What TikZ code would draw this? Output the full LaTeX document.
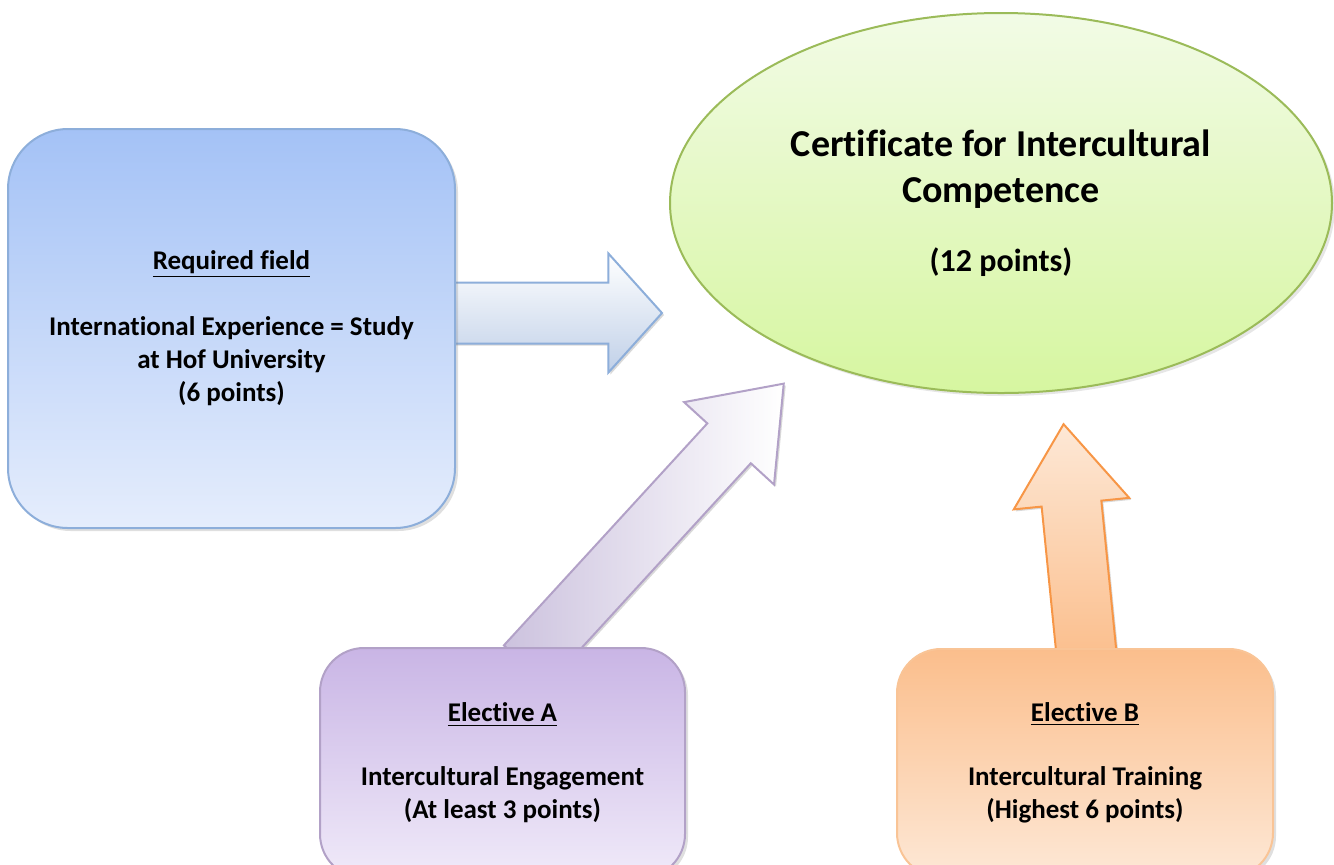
\documentclass[tikz,border=0pt]{standalone}
\usepackage{fontspec}
\setmainfont{Carlito}[Ligatures=NoCommon]
\usepackage{tikz}
\usetikzlibrary{positioning,shapes.geometric,shapes.arrows,shadows,backgrounds}
\definecolor{c_blue_top}{RGB}{164,194,246}
\definecolor{c_blue_bot}{RGB}{229,237,252}
\definecolor{c_blue_line}{RGB}{141,174,218}
\definecolor{c_blue_grey}{RGB}{192,208,232}
\definecolor{c_green_top}{RGB}{242,251,230}
\definecolor{c_green_bot}{RGB}{214,246,160}
\definecolor{c_green_line}{RGB}{155,187,89}
\definecolor{c_lila_top}{RGB}{201,181,229}
\definecolor{c_lila_bot}{RGB}{240,234,249}
\definecolor{c_lila_line}{RGB}{178,161,199}
\definecolor{c_lila_grey}{RGB}{204,194,222}
\definecolor{c_orange_top}{RGB}{251,190,140}
\definecolor{c_orange_bot}{RGB}{253,232,214}
\definecolor{c_orange_line}{RGB}{247,150,70}
\definecolor{c_orange_soft}{RGB}{249,196,150}
\tikzset{c-box/.style={rectangle, rounded corners=22pt, inner sep=0pt, align=center, line width=1pt, font=\fontsize{13.5}{16.7}\selectfont\bfseries, drop shadow={shadow xshift=1.5pt, shadow yshift=-1.5pt, opacity=0.25}},
c-arrow/.style={single arrow, anchor=tail, inner xsep=0pt, line width=1pt, drop shadow={shadow xshift=1pt, shadow yshift=-1pt, opacity=0.3}}}

\begin{document}
\begin{tikzpicture}[x=0.5pt, y=-0.5pt]
\useasboundingbox (0,0) rectangle (1334,864);
\node (req) [c-box, rounded corners=30pt, minimum width=223.5pt, minimum height=199.5pt, draw=c_blue_line, top color=c_blue_top, bottom color=c_blue_bot] at (231.5,328.5) {
\underline{Required field}\\[16pt]
International Experience = Study\\
at Hof University\\
(6 points)
};
\node (cert) [ellipse, inner sep=0pt, minimum width=331pt, minimum height=190pt, align=center, draw=c_green_line, line width=1pt, top color=c_green_top, bottom color=c_green_bot, font=\fontsize{19}{23}\selectfont\bfseries, drop shadow={shadow xshift=1.5pt, shadow yshift=-1.5pt, opacity=0.2}] at (1001,203) {
Certificate for Intercultural\\
Competence\\[11.5pt]
{\fontsize{16}{19}\selectfont (12 points)}
};
\node (elA) [c-box, minimum width=182.5pt, minimum height=115pt, draw=c_lila_line, top color=c_lila_top, bottom color=c_lila_bot] at (502.5,763) {
\underline{Elective A}\\[15pt]
Intercultural Engagement\\
(At least 3 points)
};
\node (elB) [c-box, minimum width=188pt, minimum height=114pt, draw=c_orange_soft, top color=c_orange_top, bottom color=c_orange_bot] at (1085,763) {
\underline{Elective B}\\[15pt]
Intercultural Training\\
(Highest 6 points)
};
% block arrows behind the boxes
\begin{pgfonlayer}{background}
\node (arrReq) [c-arrow, inner ysep=14.75pt, minimum height=105pt, single arrow head extend=14.5pt, single arrow tip angle=96, draw=c_blue_line, top color=white, bottom color=c_blue_grey] at ([xshift=-2.5pt, yshift=7.75pt]req.east) {};
\node (arrA) [c-arrow, rotate=47.5, inner ysep=14.25pt, minimum height=191pt, single arrow head extend=15.75pt, single arrow tip angle=74, draw=c_lila_line, left color=c_lila_grey, right color=white] at ([xshift=11.25pt, yshift=-9.5pt]elA.north) {};
\node (arrB) [c-arrow, rotate=95.7, inner ysep=14.5pt, minimum height=117.5pt, single arrow head extend=14pt, single arrow tip angle=72, draw=c_orange_line, top color=c_orange_bot, bottom color=c_orange_top] at ([xshift=1pt, yshift=-5.5pt]elB.north) {};
\end{pgfonlayer}
\end{tikzpicture}
\end{document}
